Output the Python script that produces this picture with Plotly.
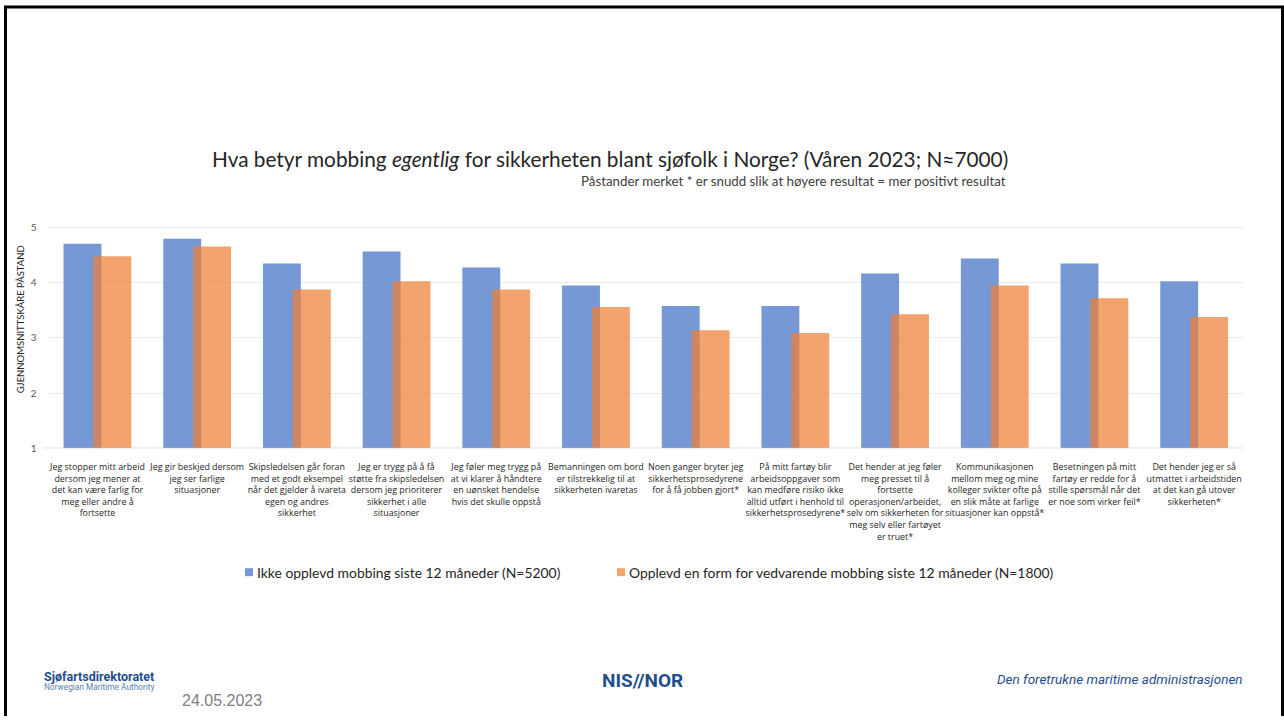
import plotly.graph_objects as go

categories = [
    "Jeg stopper mitt arbeid<br>dersom jeg mener at<br>det kan være farlig for<br>meg eller andre å<br>fortsette",
    "Jeg gir beskjed dersom<br>jeg ser farlige<br>situasjoner",
    "Skipsledelsen går foran<br>med et godt eksempel<br>når det gjelder å ivareta<br>egen og andres<br>sikkerhet",
    "Jeg er trygg på å få<br>støtte fra skipsledelsen<br>dersom jeg prioriterer<br>sikkerhet i alle<br>situasjoner",
    "Jeg føler meg trygg på<br>at vi klarer å håndtere<br>en uønsket hendelse<br>hvis det skulle oppstå",
    "Bemanningen om bord<br>er tilstrekkelig til at<br>sikkerheten ivaretas",
    "Noen ganger bryter jeg<br>sikkerhetsprosedyrene<br>for å få jobben gjort*",
    "På mitt fartøy blir<br>arbeidsoppgaver som<br>kan medføre risiko ikke<br>alltid utført i henhold til<br>sikkerhetsprosedyrene*",
    "Det hender at jeg føler<br>meg presset til å<br>fortsette<br>operasjonen/arbeidet,<br>selv om sikkerheten for<br>meg selv eller fartøyet<br>er truet*",
    "Kommunikasjonen<br>mellom meg og mine<br>kolleger svikter ofte på<br>en slik måte at farlige<br>situasjoner kan oppstå*",
    "Besetningen på mitt<br>fartøy er redde for å<br>stille spørsmål når det<br>er noe som virker feil*",
    "Det hender jeg er så<br>utmattet i arbeidstiden<br>at det kan gå utover<br>sikkerheten*",
]
not_bullied = [4.71, 4.80, 4.35, 4.57, 4.28, 3.95, 3.58, 3.58, 4.17, 4.44, 4.35, 4.03]
bullied = [4.48, 4.66, 3.88, 4.03, 3.88, 3.56, 3.14, 3.09, 3.43, 3.95, 3.72, 3.38]
series_names = [
    "Ikke opplevd mobbing siste 12 måneder (N=5200)",
    "Opplevd en form for vedvarende mobbing siste 12 måneder (N=1800)",
]
series_colors = ["#7698D4", "rgba(238,128,52,0.72)"]
legend_colors = ["#7698D4", "#F2A46F"]
y_ticks = [1, 2, 3, 4, 5]

W, H = 1284, 722
FONT = "Lato"
x_idx = list(range(len(categories)))


def px_x(p):
    return p / W


def px_y(p):
    return 1 - p / H


fig = go.Figure()
fig.add_trace(go.Bar(
    x=x_idx, y=[v - 1 for v in not_bullied], base=1, name=series_names[0],
    marker=dict(color=series_colors[0], line=dict(width=0)),
    width=0.38, offset=-0.34,
))
fig.add_trace(go.Bar(
    x=x_idx, y=[v - 1 for v in bullied], base=1, name=series_names[1],
    marker=dict(color=series_colors[1], line=dict(width=0)),
    width=0.38, offset=-0.04,
))

shapes = [
    dict(type="line", xref="paper", yref="y", x0=px_x(43), x1=px_x(1243), y0=1, y1=1,
         line=dict(color="#BFBFBF", width=1.2)),
    dict(type="line", xref="paper", yref="paper", x0=px_x(5.5), x1=px_x(5.5), y0=0, y1=px_y(6),
         line=dict(color="black", width=3)),
    dict(type="line", xref="paper", yref="paper", x0=px_x(4), x1=px_x(1284), y0=px_y(7), y1=px_y(7),
         line=dict(color="black", width=3)),
    dict(type="line", xref="paper", yref="paper", x0=px_x(1282.5), x1=px_x(1282.5), y0=0, y1=px_y(6),
         line=dict(color="black", width=3)),
]

annotations = [
    dict(text="Hva betyr mobbing <i>egentlig</i> for sikkerheten blant sjøfolk i Norge? (Våren 2023; N≈7000)",
         xref="paper", yref="paper", x=px_x(610), y=px_y(160), xanchor="center", yanchor="middle",
         showarrow=False, font=dict(size=20.8, color="#262626", family=FONT)),
    dict(text="Påstander merket * er snudd slik at høyere resultat = mer positivt resultat",
         xref="paper", yref="paper", x=px_x(1008), y=px_y(183), xanchor="right", yanchor="middle",
         showarrow=False, font=dict(size=13.3, color="#404040", family=FONT)),
    dict(text="GJENNOMSNITTSKÅRE PÅSTAND",
         xref="paper", yref="paper", x=px_x(20), y=px_y(322), xanchor="center", yanchor="middle",
         textangle=-90, showarrow=False, font=dict(size=9.5, color="#262626", family=FONT)),
    dict(text="<b>Sjøfartsdirektoratet</b>",
         xref="paper", yref="paper", x=px_x(42), y=px_y(682), xanchor="left", yanchor="middle",
         showarrow=False, font=dict(size=12.5, color="#1F4E8C", family="Roboto")),
    dict(text="Norwegian Maritime Authority",
         xref="paper", yref="paper", x=px_x(42), y=px_y(693), xanchor="left", yanchor="middle",
         showarrow=False, font=dict(size=8.3, color="#5A7FB0", family="Roboto")),
    dict(text="24.05.2023",
         xref="paper", yref="paper", x=px_x(180), y=px_y(706), xanchor="left", yanchor="middle",
         showarrow=False, font=dict(size=16, color="#808080", family="Liberation Sans")),
    dict(text="<b>NIS//NOR</b>",
         xref="paper", yref="paper", x=px_x(642), y=px_y(686), xanchor="center", yanchor="middle",
         showarrow=False, font=dict(size=19, color="#1F4E8C", family="Roboto")),
    dict(text="<i>Den foretrukne maritime administrasjonen</i>",
         xref="paper", yref="paper", x=px_x(1245), y=px_y(685), xanchor="right", yanchor="middle",
         showarrow=False, font=dict(size=13.5, color="#1F4E8C", family="Roboto")),
]

# legend (drawn manually so the spacing matches the slide)
legend_marks = [245, 617]
for name, col, lx in zip(series_names, legend_colors, legend_marks):
    shapes.append(dict(type="rect", xref="paper", yref="paper",
                       x0=px_x(lx), x1=px_x(lx + 8), y0=px_y(581), y1=px_y(573),
                       fillcolor=col, line=dict(width=0)))
    annotations.append(dict(text=name, xref="paper", yref="paper", x=px_x(lx + 10), y=px_y(577),
                            xanchor="left", yanchor="middle", showarrow=False,
                            font=dict(size=13.9, color="#262626", family=FONT)))

fig.update_layout(
    width=W, height=H,
    margin=dict(l=0, r=0, t=0, b=0),
    paper_bgcolor="white", plot_bgcolor="white",
    barmode="overlay",
    font=dict(family=FONT, color="#404040"),
    showlegend=False,
    xaxis=dict(
        domain=[px_x(47.6), px_x(1244)],
        range=[-0.5, len(categories) - 0.5],
        tickmode="array", tickvals=x_idx, ticktext=categories,
        tickangle=0, tickfont=dict(size=8.9, color="#262626", family="Open Sans"),
        showgrid=False, zeroline=False, showline=False, ticks="", ticklabelstandoff=12,
    ),
    yaxis=dict(
        domain=[px_y(452), px_y(215.7)],
        range=[1, 5.25],
        tickvals=y_ticks, ticktext=[str(t) for t in y_ticks],
        tickfont=dict(size=10, color="#595959", family=FONT),
        showgrid=True, gridcolor="#EBEBEB", gridwidth=1,
        zeroline=False, showline=False, ticks="", ticklabelstandoff=10,
    ),
    shapes=shapes,
    annotations=annotations,
)

fig.write_html("out.html")
